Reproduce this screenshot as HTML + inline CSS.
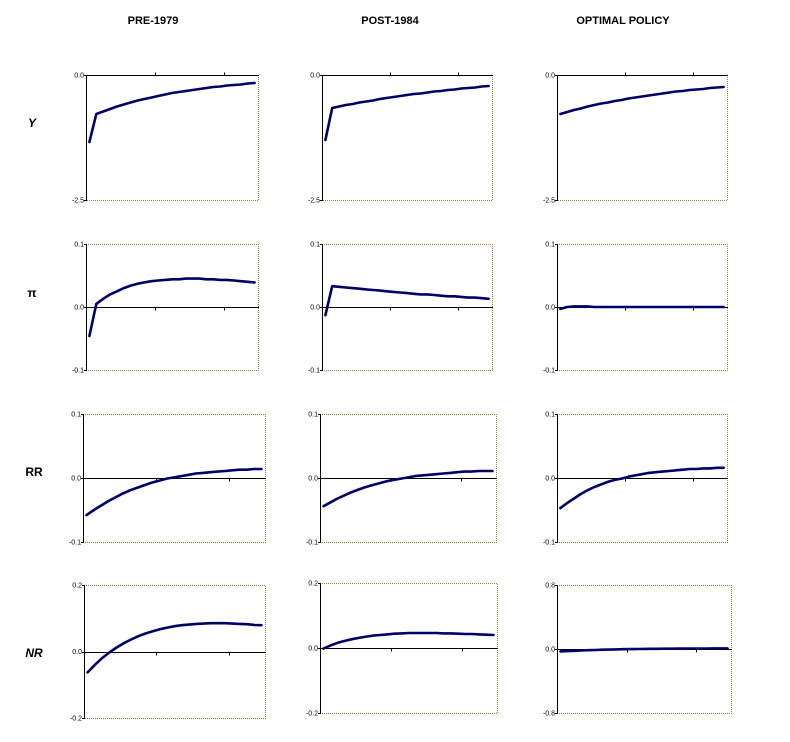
<!DOCTYPE html>
<html><head><meta charset="utf-8"><style>
body{margin:0;background:#fff;width:790px;height:742px;overflow:hidden;font-family:"Liberation Sans",Arial,sans-serif}
svg{position:absolute;left:0;top:0}
</style></head><body>
<svg id="chart" width="790" height="742">
<text x="153" y="24" font-size="11" font-weight="bold" text-anchor="middle">PRE-1979</text>
<text x="390" y="24" font-size="11" font-weight="bold" text-anchor="middle">POST-1984</text>
<text x="623" y="24" font-size="11" font-weight="bold" text-anchor="middle">OPTIMAL POLICY</text>
<text x="32" y="127" font-size="12" font-weight="bold" font-style="italic" text-anchor="middle">Y</text>
<text x="32" y="297" font-size="12" font-weight="bold" text-anchor="middle">π</text>
<text x="34" y="476" font-size="12" font-weight="bold" text-anchor="middle">RR</text>
<text x="34" y="657" font-size="12" font-weight="bold" font-style="italic" text-anchor="middle">NR</text>
</svg>
<script>
const yPre=[-1.34,-0.78,-0.73,-0.68,-0.63,-0.59,-0.55,-0.51,-0.48,-0.45,-0.42,-0.39,-0.36,-0.34,-0.32,-0.30,-0.28,-0.26,-0.24,-0.23,-0.21,-0.20,-0.19,-0.17,-0.16];
const yPost=[-1.30,-0.66,-0.63,-0.60,-0.58,-0.55,-0.53,-0.51,-0.48,-0.46,-0.44,-0.42,-0.40,-0.38,-0.37,-0.35,-0.33,-0.32,-0.30,-0.29,-0.27,-0.26,-0.25,-0.23,-0.22];
const yOpt=[-0.78,-0.74,-0.70,-0.67,-0.63,-0.60,-0.57,-0.55,-0.52,-0.50,-0.47,-0.45,-0.43,-0.41,-0.39,-0.37,-0.35,-0.33,-0.32,-0.30,-0.29,-0.28,-0.26,-0.25,-0.24];
const piPre=[-0.046,0.005,0.013,0.020,0.025,0.030,0.034,0.037,0.039,0.041,0.042,0.043,0.044,0.044,0.045,0.045,0.045,0.044,0.044,0.043,0.043,0.042,0.041,0.040,0.039];
const piPost=[-0.013,0.033,0.032,0.031,0.030,0.029,0.028,0.027,0.026,0.025,0.024,0.023,0.022,0.021,0.020,0.020,0.019,0.018,0.017,0.017,0.016,0.015,0.015,0.014,0.013];
const piOpt=[-0.003,0.000,0.001,0.001,0.001,0.000,0.000,0.000,0.000,0.000,0.000,0.000,0.000,0.000,0.000,0.000,0.000,0.000,0.000,0.000,0.000,0.000,0.000,0.000,0.000];
const rrPre=[-0.058,-0.050,-0.043,-0.036,-0.030,-0.024,-0.019,-0.015,-0.011,-0.007,-0.004,-0.001,0.001,0.003,0.005,0.007,0.008,0.009,0.010,0.011,0.012,0.013,0.013,0.014,0.014];
const rrPost=[-0.044,-0.038,-0.032,-0.027,-0.022,-0.018,-0.014,-0.011,-0.008,-0.005,-0.003,-0.001,0.001,0.003,0.004,0.005,0.006,0.007,0.008,0.009,0.010,0.010,0.011,0.011,0.011];
const rrOpt=[-0.047,-0.039,-0.032,-0.025,-0.019,-0.014,-0.010,-0.006,-0.003,-0.001,0.002,0.004,0.006,0.008,0.009,0.010,0.011,0.012,0.013,0.014,0.014,0.015,0.015,0.016,0.016];
const nrPre=[-0.063,-0.040,-0.020,-0.003,0.012,0.025,0.036,0.046,0.054,0.061,0.067,0.072,0.076,0.079,0.081,0.083,0.084,0.085,0.085,0.085,0.084,0.083,0.082,0.080,0.079];
const nrPost=[-0.002,0.008,0.016,0.022,0.027,0.031,0.035,0.038,0.040,0.042,0.044,0.045,0.046,0.046,0.046,0.046,0.046,0.045,0.045,0.044,0.043,0.043,0.042,0.041,0.040];
const nrOpt=[-0.030,-0.026,-0.022,-0.018,-0.015,-0.012,-0.009,-0.007,-0.005,-0.003,-0.001,0.000,0.001,0.002,0.003,0.004,0.004,0.005,0.005,0.006,0.006,0.006,0.007,0.007,0.007];
const yTicks=["0.0","-2.5"], piTicks=["0.1","0.0","-0.1"], rrTicks=["0.1","0.0","-0.1"], nrTicks=["0.2","0.0","-0.2"], nrOptTicks=["0.8","0.0","-0.8"];

const panels=[
 {n:"y-pre-1979",d:yPre,x0:86,x1:258,y0:75,y1:200,min:-2.5,max:0,t:yTicks},
 {n:"y-post-1984",d:yPost,x0:322,x1:492,y0:75,y1:200,min:-2.5,max:0,t:yTicks},
 {n:"y-optimal",d:yOpt,x0:557,x1:727,y0:75,y1:200,min:-2.5,max:0,t:yTicks},
 {n:"pi-pre-1979",d:piPre,x0:86,x1:258,y0:244,y1:370,min:-0.1,max:0.1,t:piTicks},
 {n:"pi-post-1984",d:piPost,x0:322,x1:492,y0:244,y1:370,min:-0.1,max:0.1,t:piTicks},
 {n:"pi-optimal",d:piOpt,x0:557,x1:727,y0:244,y1:370,min:-0.1,max:0.1,t:piTicks},
 {n:"rr-pre-1979",d:rrPre,x0:83,x1:265,y0:414,y1:542,min:-0.1,max:0.1,t:rrTicks},
 {n:"rr-post-1984",d:rrPost,x0:320,x1:496,y0:414,y1:542,min:-0.1,max:0.1,t:rrTicks},
 {n:"rr-optimal",d:rrOpt,x0:557,x1:727,y0:414,y1:542,min:-0.1,max:0.1,t:rrTicks},
 {n:"nr-pre-1979",d:nrPre,x0:84,x1:265,y0:585,y1:718,min:-0.2,max:0.2,t:nrTicks},
 {n:"nr-post-1984",d:nrPost,x0:320,x1:497,y0:583,y1:713,min:-0.2,max:0.2,t:nrTicks},
 {n:"nr-optimal",d:nrOpt,x0:557,x1:731,y0:585,y1:713,min:-0.8,max:0.8,t:nrOptTicks}
];
const svg=document.getElementById('chart');
const NS="http://www.w3.org/2000/svg";
function mk(tag,attrs,parent){const e=document.createElementNS(NS,tag);for(const k in attrs)e.setAttribute(k,attrs[k]);parent.appendChild(e);return e;}
panels.forEach(p=>{
 const g=mk('g',{},svg);
 
 
 const N=p.d.length, cw=(p.x1-p.x0)/N;
 const sx=i=>p.x0+cw*(i+0.5);
 const sy=v=>p.y0+(p.max-v)/(p.max-p.min)*(p.y1-p.y0);
 const fr=mk('path',{d:`M${p.x0},${p.y0+0.5}H${p.x1+0.5}V${p.y1+0.5}H${p.x0}`,fill:'none',stroke:'#8a8a3a','stroke-width':1,'stroke-dasharray':'1,1'},g);
 
 
 const ya=mk('line',{x1:p.x0+0.5,x2:p.x0+0.5,y1:p.y0,y2:p.y1+1,stroke:'#000','stroke-width':1},g);
 
 
 const zy=Math.round(sy(0))+0.5;
 const xa=mk('line',{x1:p.x0,x2:p.x1+1,y1:zy,y2:zy,stroke:'#000','stroke-width':1},g);
 
 
 const up=(p.max===0);
 [10,20].forEach(k=>{
  const tx=Math.round(p.x0+cw*k)+0.5;
  const tk=mk('line',{x1:tx,x2:tx,y1:zy,y2:up?zy-3:zy+3,stroke:'#000'},g);
  
  
 });
 const vals=p.t.map(Number);
 p.t.forEach((lab,i)=>{
  const v=vals[i];
  const ty=sy(v);
  const tl=mk('text',{x:p.x0-2,y:ty+2.5,'font-size':7,'text-anchor':'end',fill:'#000'},g);
  tl.textContent=lab;
  
  
  const tm=mk('line',{x1:p.x0-2,x2:p.x0,y1:Math.round(ty)+0.5,y2:Math.round(ty)+0.5,stroke:'#000'},g);
  
  
 });
 const pts=p.d.map((v,i)=>sx(i).toFixed(1)+','+sy(v).toFixed(1)).join(' ');
 const ln=mk('polyline',{points:pts,fill:'none',stroke:'#000066','stroke-width':2.6,'stroke-linejoin':'round','stroke-linecap':'round'},g);
 
 
});
</script>
</body></html>
